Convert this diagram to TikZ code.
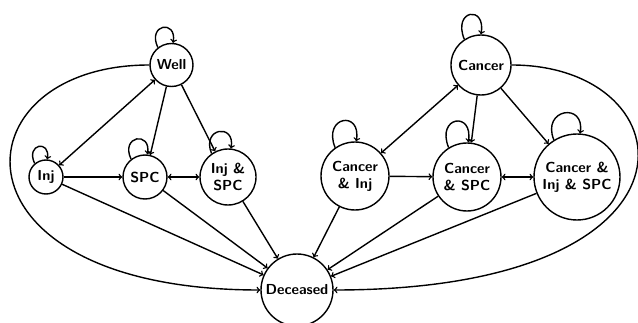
\documentclass[tikz,border=0pt]{standalone}
\begin{document}
\begin{tikzpicture}[x=1pt,y=1pt,
  state/.style={circle,draw,line width=1.4pt,inner sep=0pt,align=center,
    font=\fontsize{14.5}{17}\selectfont\sffamily\bfseries},
  flow/.style={->,line width=1.4pt},
  twoway/.style={<->,line width=1.4pt}]
\useasboundingbox (0,0) rectangle (638,322);
% states without cancer
\node[state,minimum size=43pt] (well) at (171.5,257) {Well};
\node[state,minimum size=34pt] (inj)  at (46,145) {Inj};
\node[state,minimum size=44pt] (spc)  at (145,145) {SPC};
\node[state,minimum size=56pt] (injspc) at (228,145) {Inj \&\\SPC};
% states with cancer
\node[state,minimum size=60pt] (can)  at (481,257) {Cancer};
\node[state,minimum size=68pt] (caninj) at (355,146) {Cancer\\\& Inj};
\node[state,minimum size=68pt] (canspc) at (467,145) {Cancer\\\& SPC};
\node[state,minimum size=86pt] (canall) at (577,145) {Cancer \&\\Inj \& SPC};
% absorbing state
\node[state,minimum size=72pt] (dead) at (297,32) {Deceased};

% self loops
\draw[flow] (well.128) .. controls +(115:26) and +(80:24) .. (well.86);
\draw[flow] (inj.130) .. controls +(115:22) and +(80:20) .. (inj.86);
\draw[flow] (spc.128) .. controls +(115:26) and +(80:24) .. (spc.84);
\draw[flow] (injspc.125) .. controls +(112:28) and +(80:26) .. (injspc.84);
\draw[flow] (can.123) .. controls +(112:32) and +(80:30) .. (can.90);
\draw[flow] (caninj.125) .. controls +(112:34) and +(80:32) .. (caninj.88);
\draw[flow] (canspc.122) .. controls +(112:34) and +(80:32) .. (canspc.88);
\draw[flow] (canall.122) .. controls +(112:34) and +(80:32) .. (canall.86);

% transitions without cancer
\draw[twoway] (well) -- (inj);
\draw[flow] (well) -- (spc);
\draw[flow] (well) -- (injspc);
\draw[flow] (inj) -- (spc);
\draw[twoway] (spc) -- (injspc);
\draw[flow] (inj) -- (dead);
\draw[flow] (spc) -- (dead);
\draw[flow] (injspc) -- (dead);
\draw[flow] (well.west) .. controls (-45,257) and (-60,32) .. (dead.west);

% transitions with cancer
\draw[twoway] (can) -- (caninj);
\draw[flow] (can) -- (canspc);
\draw[flow] (can) -- (canall);
\draw[flow] (caninj) -- (canspc);
\draw[twoway] (canspc) -- (canall);
\draw[flow] (caninj) -- (dead);
\draw[flow] (canspc) -- (dead);
\draw[flow] (canall) -- (dead);
\draw[flow] (can.east) .. controls (690,257) and (720,32) .. (dead.east);
\end{tikzpicture}
\end{document}
